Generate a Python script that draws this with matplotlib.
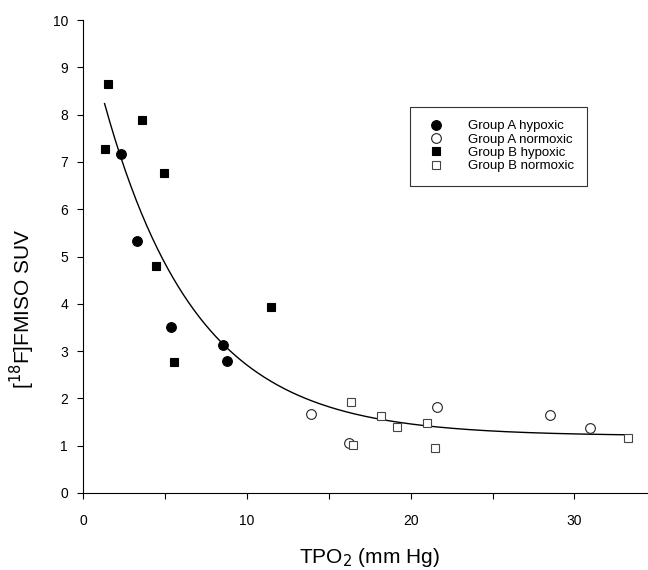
import numpy as np
import matplotlib
matplotlib.use("Agg")
import matplotlib.pyplot as plt
from matplotlib.ticker import MultipleLocator, FixedLocator

plt.rcParams['font.family'] = ['Liberation Sans', 'DejaVu Sans']

# Group A hypoxic (filled circles)
a_hyp_x = [2.3, 3.3, 5.35, 8.55, 8.75]
a_hyp_y = [7.17, 5.33, 3.52, 3.13, 2.80]
# Group A normoxic (open circles)
a_nor_x = [13.9, 16.2, 21.6, 28.5, 30.95]
a_nor_y = [1.68, 1.05, 1.82, 1.65, 1.37]
# Group B hypoxic (filled squares)
b_hyp_x = [1.3, 1.5, 3.6, 4.45, 4.95, 5.55, 11.45]
b_hyp_y = [7.28, 8.65, 7.88, 4.80, 6.77, 2.77, 3.94]
# Group B normoxic (open squares)
b_nor_x = [16.35, 16.45, 18.2, 19.15, 21.0, 21.5, 33.3]
b_nor_y = [1.92, 1.01, 1.63, 1.39, 1.48, 0.96, 1.17]

# exponential decay fit y = y0 + a*exp(-b*x) over all points
all_x = np.array(a_hyp_x + a_nor_x + b_hyp_x + b_nor_x)
all_y = np.array(a_hyp_y + a_nor_y + b_hyp_y + b_nor_y)
best = None
for b in np.linspace(0.02, 0.6, 1200):
    A = np.column_stack([np.ones_like(all_x), np.exp(-b * all_x)])
    coef = np.linalg.lstsq(A, all_y, rcond=None)[0]
    err = np.sum((A @ coef - all_y) ** 2)
    if best is None or err < best[0]:
        best = (err, b, coef)
_, fit_b, (fit_y0, fit_a) = best
curve_x = np.linspace(all_x.min(), all_x.max(), 300)
curve_y = fit_y0 + fit_a * np.exp(-fit_b * curve_x)

fig = plt.figure(figsize=(6.48, 5.70), dpi=100)
ax = fig.add_axes([83.3 / 648, 77 / 570, 573 / 648, 473 / 570])

ax.plot(curve_x, curve_y, color='black', lw=1.0, zorder=2)
ax.plot(a_hyp_x, a_hyp_y, 'o', ms=7, mfc='black', mec='black', mew=0.8,
        ls='none', label='Group A hypoxic', zorder=3)
ax.plot(a_nor_x, a_nor_y, 'o', ms=7, mfc='white', mec='#222222', mew=0.8,
        ls='none', label='Group A normoxic', zorder=3)
ax.plot(b_hyp_x, b_hyp_y, 's', ms=6.2, mfc='black', mec='black', mew=0.8,
        ls='none', label='Group B hypoxic', zorder=3)
ax.plot(b_nor_x, b_nor_y, 's', ms=6.2, mfc='white', mec='#444444', mew=0.8,
        ls='none', label='Group B normoxic', zorder=3)

ax.set_xlim(0, 35)
ax.set_ylim(0, 10)
ax.spines['top'].set_visible(False)
ax.spines['right'].set_visible(False)
ax.spines['left'].set_linewidth(0.8)
ax.spines['bottom'].set_linewidth(0.8)
ax.yaxis.set_major_locator(MultipleLocator(1))
ax.xaxis.set_major_locator(FixedLocator([0, 10, 20, 30]))
ax.xaxis.set_minor_locator(FixedLocator([5, 15, 25, 35]))
ax.tick_params(axis='both', which='both', direction='out', length=4, width=0.8)
ax.tick_params(axis='y', labelsize=10, pad=7)
ax.tick_params(axis='x', labelsize=10, pad=11)

ax.set_xlabel('TPO$_2$ (mm Hg)', fontsize=15)
ax.xaxis.set_label_coords(0.5, -0.112)
ax.set_ylabel('[$^{18}$F]FMISO SUV', fontsize=15)
ax.yaxis.set_label_coords(-0.08, 0.39)

leg = ax.legend(loc='upper left', bbox_to_anchor=(410 / 648, 1 - 107 / 570),
                bbox_transform=fig.transFigure, fontsize=9.5, frameon=True,
                fancybox=False, edgecolor='black', borderpad=1.0,
                labelspacing=0.08, handlelength=2.0, handletextpad=1.4,
                borderaxespad=0)
leg.get_frame().set_linewidth(0.8)

fig.savefig('out.png', dpi=100)
